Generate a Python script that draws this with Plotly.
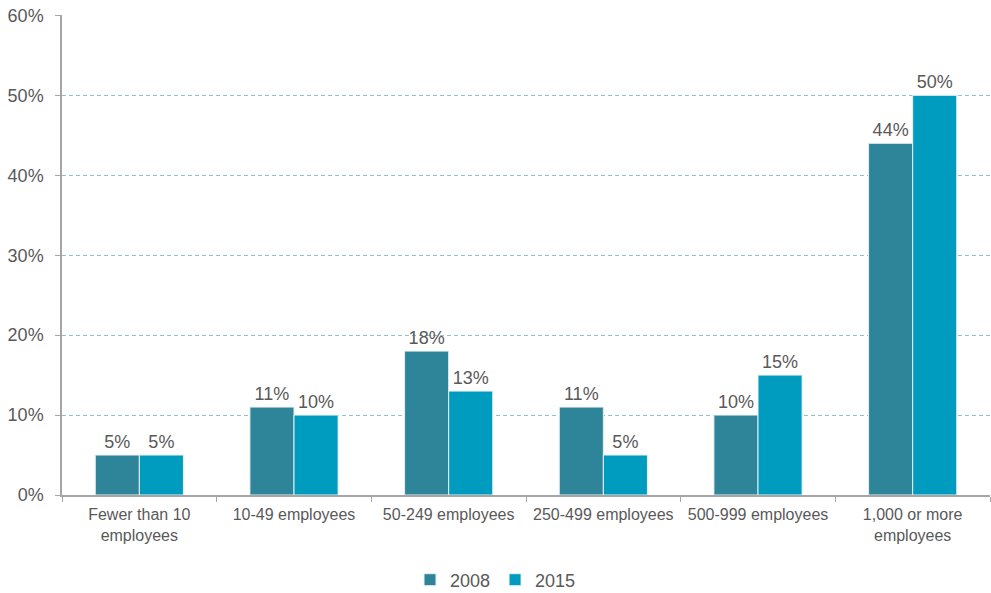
import plotly.graph_objects as go

categories = ["Fewer than 10<br>employees", "10-49 employees", "50-249 employees",
              "250-499 employees", "500-999 employees", "1,000 or more<br>employees"]
values_2008 = [5, 11, 18, 11, 10, 44]
values_2015 = [5, 10, 13, 5, 15, 50]
y_ticks = [0, 10, 20, 30, 40, 50, 60]
y_tick_labels = ["0%", "10%", "20%", "30%", "40%", "50%", "60%"]

font = "Liberation Sans, Arial, sans-serif"
fig = go.Figure()
fig.add_trace(go.Bar(name="2008", x=categories, y=values_2008,
                     marker=dict(color="#2E8499", line=dict(color="#E8F0F2", width=1)),
                     text=[f"{v}%" for v in values_2008], textposition="outside",
                     textfont=dict(size=18, color="#595959"), cliponaxis=False))
fig.add_trace(go.Bar(name="2015", x=categories, y=values_2015,
                     marker=dict(color="#009CC0", line=dict(color="#E8F0F2", width=1)),
                     text=[f"{v}%" for v in values_2015], textposition="outside",
                     textfont=dict(size=18, color="#595959"), cliponaxis=False))

fig.update_layout(
    width=991, height=593,
    margin=dict(l=62, r=1, t=15, b=98),
    paper_bgcolor="white", plot_bgcolor="white",
    barmode="group", bargap=0.43, bargroupgap=0,
    uniformtext=dict(minsize=18, mode="show"),
    font=dict(family=font, size=16, color="#595959"),
    legend=dict(orientation="h", x=0.5, xanchor="center", xref="container",
                y=1 - 580 / 593, yanchor="middle", yref="container",
                font=dict(size=18, color="#595959"), itemwidth=30, traceorder="normal"),
    xaxis=dict(showline=True, linecolor="#A6A6A6", linewidth=1.5, automargin=False,
               ticks="outside", tickson="boundaries", ticklen=5, tickcolor="#A6A6A6",
               ticklabelstandoff=4,
               tickfont=dict(size=16, color="#595959")),
    yaxis=dict(range=[0, 60.05], tickvals=y_ticks, ticktext=y_tick_labels, automargin=False,
               showline=True, linecolor="#A6A6A6", linewidth=1.5,
               ticks="outside", ticklen=5, tickcolor="#A6A6A6", ticklabelstandoff=8,
               ticklabeloverflow="allow",
               showgrid=True, gridcolor="#8FC3C9", griddash="4px,3px", gridwidth=1,
               zeroline=False, tickfont=dict(size=18, color="#595959")),
)
# remove the page's default 8px body margin so the figure fills the window exactly
fig.write_html("out.html", config={"displayModeBar": False},
               post_script="document.body.style.margin='0';")
